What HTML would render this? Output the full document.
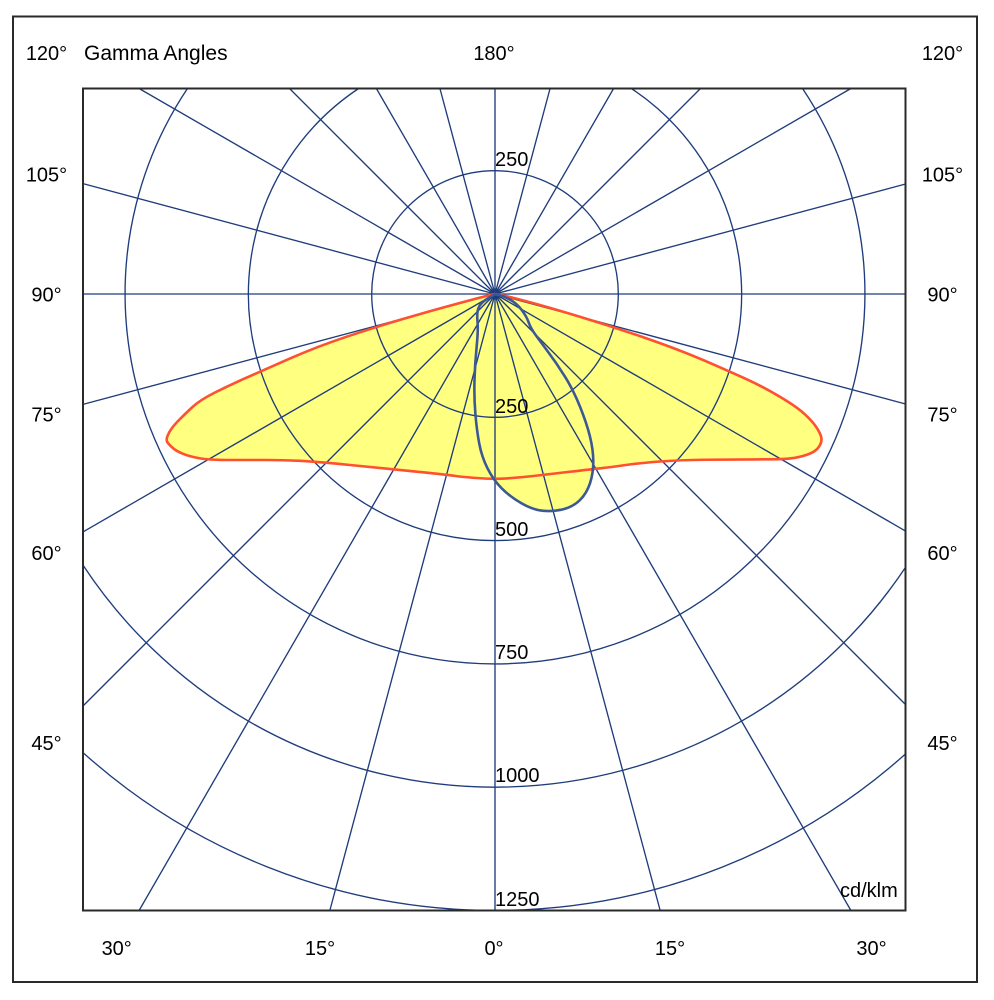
<!DOCTYPE html>
<html>
<head>
<meta charset="utf-8">
<style>
  html, body { margin:0; padding:0; background:#fff; width:994px; height:1000px; overflow:hidden; }
  svg { display:block; }
  text { font-family: "Liberation Sans", Arial, sans-serif; font-size:20px; fill:#000; }
</style>
</head>
<body>
<svg width="994" height="1000" viewBox="0 0 994 1000" xmlns="http://www.w3.org/2000/svg">
  <rect x="0" y="0" width="994" height="1000" fill="#fff"/>
  <defs>
    <path id="red" d="M495,294 L500.85,295 Q506.7,296 526.7,301.35 Q546.7,306.7 579.85,316.7 Q613,326.7 646.5,338.35 Q680,350 705,360.85 Q730,371.7 746.5,379.2 Q763,386.7 779.85,396.7 Q796.7,406.7 804.35,413.85 Q812,421 815.5,426 Q819,431 820.75,435.5 Q822.5,440 820.25,444.5 Q818,449 814,451.5 Q810,454 803,456 Q796,458 788,458.65 Q780,459.3 755,459.4 Q730,459.5 705,459.75 Q680,460 660,461.5 Q640,463 625,465.15 Q610,467.3 601.5,468.15 Q593,469 569.85,471.75 Q546.7,474.5 533.35,476 Q520,477.5 506.65,478.4 Q493.3,479.3 476.65,478 Q460,476.7 455,475.85 Q450,475 416.65,471.65 Q383.3,468.3 350,465 Q316.7,461.7 300,460.85 Q283.3,460 266.65,460 Q250,460 230,460 Q210,460 200,458.35 Q190,456.7 183,453.85 Q176,451 172.25,447.5 Q168.5,444 167.25,442 Q166,440 167.5,436 Q169,432 172,428 Q175,424 180,419 Q185,414 192.5,407 Q200,400 215,392.5 Q230,385 245,378.35 Q260,371.7 288.35,359.2 Q316.7,346.7 346.7,336.7 Q376.7,326.7 403.35,318.85 Q430,311 456.5,303.85 Q483,296.7 489,295.35 L495,294 Z"/>
    <path id="blue" d="M495,294 L487.5,298.65 Q480,303.3 478.35,308.3 Q476.7,313.3 477.5,321.65 Q478.3,330 476.65,346.5 Q475,363 474.5,379.85 Q474,396.7 475.35,413.35 Q476.7,430 479.2,443.35 Q481.7,456.7 487.5,468.35 Q493.3,480 501.65,488.35 Q510,496.7 521.65,503.35 Q533.3,510 543.3,510.85 Q553.3,511.7 563.3,509.2 Q573.3,506.7 580,500 Q586.7,493.3 590,483.3 Q593.3,473.3 593.3,461.65 Q593.3,450 590,436.65 Q586.7,423.3 580,406.65 Q573.3,390 565,376.65 Q556.7,363.3 546.7,350 Q536.7,336.7 533.35,331.7 Q530,326.7 528.35,321.7 Q526.7,316.7 521.7,310 Q516.7,303.3 510,299.65 Q503.3,296 499.15,295 L495,294 Z"/>
  </defs>

  <!-- outer border -->
  <rect x="13" y="16.5" width="964" height="965.5" fill="none" stroke="#2a2a2a" stroke-width="2"/>

  <!-- yellow fills -->
  <use href="#red" fill="#ffff80" stroke="none"/>
  <use href="#blue" fill="#ffff80" stroke="none"/>

  <!-- grid circles (clipped to plot area by geometry) -->
  <g fill="none" stroke="#1f3d7c" stroke-width="1.35">
    <circle cx="495" cy="294" r="123.3"/>
    <path d="M630.6,88 A246.6,246.6 0 1 1 359.4,88"/>
    <path d="M802.2,88 A369.9,369.9 0 1 1 187.8,88"/>
    <path d="M83,565.1 A493.2,493.2 0 0 0 906,566.6"/>
    <path d="M83,752.6 A616.5,616.5 0 0 0 906,753.5"/>
  </g>

  <!-- radial lines -->
  <path fill="none" stroke="#1f3d7c" stroke-width="1.35" d="
    M495,294 L495,911
    M495,294 L660.3,911 M495,294 L329.7,911
    M495,294 L851.2,911 M495,294 L138.8,911
    M495,294 L906,705 M495,294 L83,706
    M495,294 L906,531.3 M495,294 L83,531.9
    M495,294 L906,404.1 M495,294 L83,404.4
    M495,294 L906,294 M495,294 L83,294
    M495,294 L906,183.9 M495,294 L83,183.6
    M495,294 L851.8,88 M495,294 L138.2,88
    M495,294 L701,88 M495,294 L289,88
    M495,294 L613.9,88 M495,294 L376.1,88
    M495,294 L550.2,88 M495,294 L439.8,88
    M495,294 L495,88"/>

  <!-- curves -->
  <use href="#red" fill="none" stroke="#ff5030" stroke-width="2.6" stroke-linejoin="round"/>
  <use href="#blue" fill="none" stroke="#3d5896" stroke-width="2.6" stroke-linejoin="round"/>

  <!-- inner plot frame -->
  <rect x="83" y="88.5" width="822.5" height="822" fill="none" stroke="#2a2a2a" stroke-width="2"/>

  <!-- radial value labels -->
  <text x="495" y="166">250</text>
  <text x="495" y="413">250</text>
  <text x="495" y="536">500</text>
  <text x="495" y="659">750</text>
  <text x="495" y="782">1000</text>
  <text x="495" y="906">1250</text>
  <text x="840" y="897">cd/klm</text>

  <!-- top labels -->
  <text x="84" y="60" style="font-size:21px">Gamma Angles</text>
  <text x="494" y="60" text-anchor="middle">180°</text>

  <g text-anchor="middle">
    <text x="46.5" y="60">120°</text>
    <text x="46.5" y="181.5">105°</text>
    <text x="46.5" y="301.5">90°</text>
    <text x="46.5" y="421.5">75°</text>
    <text x="46.5" y="560">60°</text>
    <text x="46.5" y="750">45°</text>

    <text x="942.5" y="60">120°</text>
    <text x="942.5" y="181.5">105°</text>
    <text x="942.5" y="301.5">90°</text>
    <text x="942.5" y="421.5">75°</text>
    <text x="942.5" y="560">60°</text>
    <text x="942.5" y="750">45°</text>

    <text x="116.7" y="955">30°</text>
    <text x="320" y="955">15°</text>
    <text x="494" y="955">0°</text>
    <text x="670" y="955">15°</text>
    <text x="871.5" y="955">30°</text>
  </g>
</svg>
</body>
</html>
